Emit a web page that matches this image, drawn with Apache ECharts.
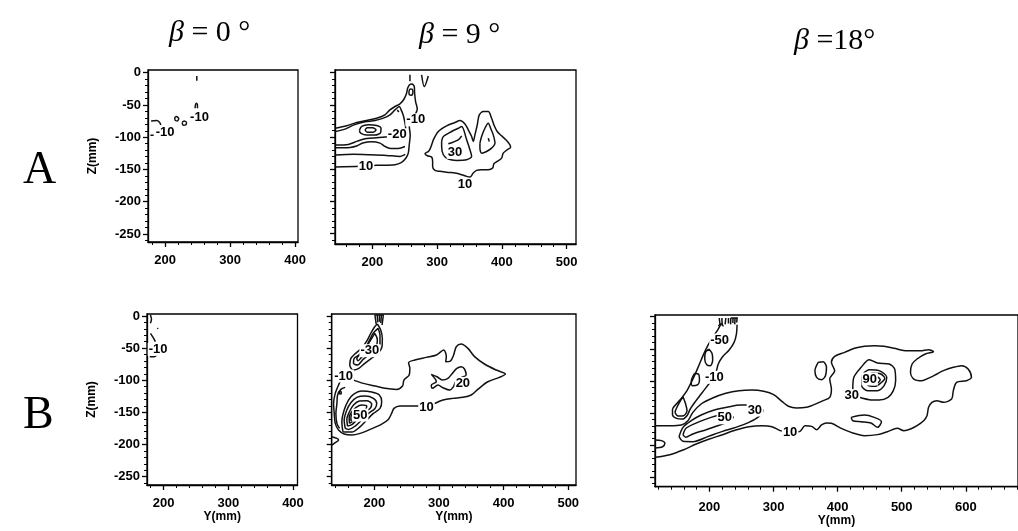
<!DOCTYPE html>
<html>
<head>
<meta charset="utf-8">
<script src="https://cdn.jsdelivr.net/npm/echarts@6/dist/echarts.min.js"></script>
<style>
html,body{margin:0;padding:0;background:#fff}
#chart{width:1018px;height:531px}
</style>
</head>
<body>
<div id="chart"></div>
<script>
// ---- tick values (mm) ----
const zMajorTicks = [0, -50, -100, -150, -200, -250];
const yMajorA0 = [200, 300, 400];
const yMajorA9 = [200, 300, 400, 500];
const yMajorB18 = [200, 300, 400, 500, 600];

// ---- contour lines, points are [Y (mm), Z (mm)] ----
// Row A, beta = 0
const a0Tick = [[248.9,-5.1],[248.9,-12.3]];
const a0Cap = [[246.3,-55.1],[246.8,-49.9],[248.3,-47.4],[249.9,-49.9],[249.9,-55.1]];
const a0LoopA = [[215.0,-69.1],[217.6,-68.0],[221.1,-71.1],[219.1,-74.7],[215.5,-73.7],[215.0,-69.1]];
const a0LoopB = [[226.3,-77.3],[229.4,-74.7],[233.0,-77.3],[231.9,-80.9],[227.8,-81.4],[226.3,-77.3]];
const a0Arc = [[178.6,-74.7],[187.3,-74.2],[191.4,-76.8],[193.5,-80.9]];
const a0Dash = [[177.5,-97.0],[182.5,-97.0]];
const a0Labels = [[253.0,-69.1,'-10'],[200.1,-92.8,'-10']];

// Row A, beta = 9
const a9Outer = [[143.0,-86.1],[160.4,-82.5],[175.8,-77.3],[191.3,-74.2],[206.7,-70.6],[219.5,-65.4],[227.2,-57.7],[235.0,-52.5],[242.7,-48.4],[248.8,-41.2],[252.9,-31.9],[254.5,-24.2],[257.1,-19.0],[261.2,-17.5],[264.8,-21.6],[265.3,-31.9],[266.8,-44.8],[269.4,-56.7],[265.8,-65.4],[260.7,-74.2],[257.1,-83.5],[258.5,-96.4],[257.0,-111.9],[255.5,-124.8],[251.9,-132.5],[245.2,-139.2],[235.0,-142.8],[206.7,-143.9],[181.0,-145.4],[143.0,-146.5]];
const a9Ring20 = [[143.0,-112.4],[163.0,-111.4],[176.9,-106.2],[191.3,-102.1],[206.7,-101.0],[219.5,-100.0],[229.8,-97.9],[242.7,-96.9],[249.5,-94.0],[251.5,-86.1],[250.0,-75.8],[247.5,-65.4],[244.5,-57.7],[241.6,-52.5],[235.0,-57.7],[227.2,-65.4],[217.0,-70.6],[204.1,-74.2],[188.7,-76.3],[170.7,-81.4],[157.9,-87.6],[143.0,-91.2]];
const a9Lower1 = [[143.0,-116.5],[165.6,-116.0],[176.9,-113.4],[185.1,-109.3],[199.0,-107.2],[211.8,-109.3],[219.5,-114.5],[228.3,-117.6],[240.1,-117.6],[250.4,-114.5]];
const a9Lower2 = [[143.0,-127.9],[170.7,-126.8],[196.4,-127.4],[222.1,-128.4],[242.7,-130.0],[250.9,-126.8]];
const a9PeakOuter = [[180.0,-89.7],[183.6,-83.5],[193.8,-80.9],[206.7,-82.0],[213.4,-86.1],[212.9,-92.8],[204.1,-96.9],[191.3,-96.9],[182.0,-93.8],[180.0,-89.7]];
const a9PeakInner = [[188.7,-88.7],[192.3,-85.6],[200.5,-85.6],[205.7,-88.7],[201.5,-92.3],[192.3,-92.3],[188.7,-88.7]];
const a9TipLoop = [[256.5,-29.3],[258.6,-25.2],[261.7,-25.7],[262.7,-30.4],[260.7,-35.0],[257.1,-34.0],[256.5,-29.3]];
const a9TopTick = [[258.1,-3.0],[258.1,-13.3]];
const a9TopV = [[276.1,-3.5],[280.2,-21.6],[286.4,-5.1]];
const a9Fleck = [[238.5,-58.0],[241.0,-61.0]];
const a9RightOuter = [[294.2,-104.2],[301.9,-91.3],[314.7,-82.5],[327.6,-77.4],[335.3,-74.3],[343.0,-79.5],[348.1,-88.7],[353.3,-99.1],[355.8,-106.8],[358.4,-96.5],[362.0,-81.0],[365.1,-65.5],[371.3,-60.4],[379.0,-60.4],[384.1,-70.7],[387.7,-81.0],[392.8,-91.3],[399.5,-98.0],[406.2,-104.2],[412.4,-112.0],[413.4,-115.6],[408.3,-119.7],[402.1,-124.9],[399.5,-132.6],[392.8,-137.8],[387.7,-141.4],[385.7,-148.1],[379.0,-150.7],[368.7,-150.7],[361.0,-151.7],[355.8,-155.8],[350.7,-162.0],[345.6,-161.0],[337.9,-158.4],[327.6,-155.8],[317.3,-154.8],[304.4,-153.2],[296.7,-151.7],[293.1,-145.5],[293.1,-137.8],[291.6,-131.1],[284.9,-129.0],[281.3,-125.9],[286.5,-122.3],[289.0,-118.7],[291.6,-112.0],[294.2,-104.2]];
const a9Right30 = [[307.0,-106.8],[309.6,-99.1],[322.4,-91.3],[332.7,-86.2],[337.9,-83.6],[345.6,-104.2],[350.7,-119.7],[353.3,-130.0],[345.6,-135.2],[330.1,-136.2],[317.3,-134.1],[309.6,-127.4],[307.0,-114.5],[307.0,-106.8]];
const a9RightInnerLine = [[317.3,-110.4],[332.7,-104.2],[337.9,-98.0]];
const a9RightLobe = [[366.1,-109.4],[368.7,-99.1],[373.8,-86.2],[379.0,-78.4],[382.6,-86.2],[386.7,-96.5],[389.3,-109.4],[384.1,-117.1],[376.4,-122.3],[368.7,-124.9],[366.1,-117.1],[366.1,-109.4]];
const a9RightFleck = [[379.0,-101.6],[380.5,-106.8]];
const a9Labels = [[267.0,-73.2,'-10'],[238.5,-96.4,'-20'],[190.3,-146.0,'10'],[327.6,-123.8,'30'],[343.0,-173.9,'10']];

// Row B, beta = 0
const b0Tick = [[179.6,1.5],[181.2,-5.2],[179.6,-11.4]];
const b0Dot = [[190.4,-18.6],[191.4,-20.0]];
const b0Slash = [[179.6,-27.0],[183.7,-33.2],[187.3,-40.0]];
const b0Hook = [[187.3,-55.5],[189.9,-59.7],[185.8,-63.3],[178.6,-63.3]];
const b0Labels = [[191.4,-51.9,'-10']];

// Row B, beta = 9
const b9Outer = [[165.2,-98.6],[183.2,-104.9],[201.1,-109.0],[216.5,-112.6],[234.5,-114.2],[243.7,-109.0],[245.8,-99.7],[254.0,-91.9],[255.0,-81.5],[253.0,-72.7],[262.7,-68.5],[280.7,-64.4],[296.1,-60.7],[307.3,-53.0],[311.4,-63.3],[310.4,-71.1],[317.6,-70.1],[322.7,-60.7],[326.8,-47.8],[334.5,-43.6],[344.8,-50.4],[355.1,-63.3],[370.4,-74.7],[388.4,-84.1],[402.8,-90.3],[393.5,-95.5],[375.6,-102.3],[360.2,-114.2],[349.9,-123.0],[337.1,-126.6],[321.7,-128.2],[306.3,-130.8],[293.5,-136.0],[283.2,-141.2],[270.4,-140.1],[255.0,-140.1],[239.6,-140.1],[230.4,-143.8],[226.8,-151.6],[221.7,-160.9],[211.4,-168.2],[193.5,-176.5],[178.1,-182.7],[165.2,-185.3],[153.4,-183.7],[144.7,-177.5],[139.6,-167.1],[138.0,-151.6],[137.0,-136.0],[139.6,-120.4],[144.7,-107.4],[149.9,-97.1],[157.5,-95.5],[165.2,-98.6]];
const b9Fish = [[288.2,-90.8],[297.0,-94.5],[305.2,-99.7],[313.9,-97.1],[320.6,-89.3],[327.7,-81.5],[334.4,-78.9],[339.5,-82.5],[342.1,-91.9],[334.4,-96.0],[325.7,-102.3],[322.6,-110.0],[316.5,-115.2],[306.2,-111.6],[298.5,-107.5],[289.8,-112.6],[288.2,-107.5],[295.9,-102.3],[288.2,-90.8]];
const b9Peak1 = [[151.4,-180.1],[149.8,-164.5],[153.4,-146.4],[160.1,-130.8],[167.8,-122.0],[180.6,-116.8],[196.0,-118.3],[207.8,-123.0],[211.4,-133.4],[208.8,-143.8],[198.6,-151.6],[188.3,-161.9],[177.0,-173.4],[165.2,-180.6],[151.4,-180.1]];
const b9Peak2 = [[155.0,-174.9],[153.4,-161.9],[157.5,-146.4],[163.7,-135.0],[172.9,-126.6],[185.8,-124.6],[198.6,-128.2],[203.7,-136.0],[201.1,-143.8],[190.9,-151.6],[180.6,-161.9],[170.4,-171.3],[160.1,-176.5],[155.0,-174.9]];
const b9Peak3 = [[158.6,-171.3],[157.5,-160.9],[161.6,-149.0],[167.8,-138.6],[177.0,-132.4],[188.3,-131.8],[196.0,-137.0],[193.5,-143.8],[183.2,-150.5],[174.0,-160.4],[165.2,-169.2],[158.6,-171.3]];
const b9Peak4 = [[161.6,-167.1],[161.1,-157.8],[165.2,-149.0],[171.9,-142.2],[180.6,-138.6],[188.3,-140.1],[185.8,-146.4],[177.0,-152.6],[169.3,-161.9],[161.6,-167.1]];
const b9Peak5 = [[163.7,-163.0],[164.2,-155.7],[168.8,-149.5],[175.5,-146.4],[179.1,-147.9],[174.0,-154.2],[167.8,-160.9],[163.7,-163.0]];
const b9LeftInner = [[155.0,-111.1],[148.3,-114.2],[143.2,-123.0],[142.2,-136.0],[140.6,-151.6],[142.2,-167.1],[146.3,-174.9]];
const b9Speck = [[146.3,-118.0],[148.5,-117.5],[149.0,-120.5],[147.0,-121.5],[145.8,-120.0],[146.3,-118.0]];
const b9Hook = [[134.5,-187.9],[142.2,-190.5],[144.7,-193.1],[139.6,-197.2],[134.5,-200.9]];
const b9UpperA = [[204.7,-12.5],[209.9,-21.8],[212.4,-34.8],[211.9,-47.8],[205.8,-58.2],[195.5,-66.0],[185.2,-73.7],[176.0,-81.5],[167.3,-84.1],[162.1,-76.3],[163.7,-66.0],[169.8,-59.2],[180.1,-50.4],[187.8,-40.0],[194.5,-27.0],[200.6,-16.7],[204.7,-12.5]];
const b9UpperB = [[205.8,-19.2],[208.8,-29.6],[208.8,-42.6],[203.2,-51.9],[192.9,-59.2],[182.7,-67.5],[173.9,-76.3],[167.8,-73.7],[168.8,-66.0],[176.0,-60.8],[185.2,-51.9],[191.4,-40.0],[198.1,-27.0],[205.8,-19.2]];
const b9UpperC = [[200.6,-27.0],[204.7,-36.4],[203.7,-45.2],[198.1,-50.4],[189.3,-57.1],[180.1,-64.4],[175.0,-69.6],[172.9,-66.0],[179.1,-59.2],[186.8,-50.4],[192.9,-40.0],[200.6,-27.0]];
const b9Hatch = [
  [[201.0,1.5],[203.0,-13.0]],
  [[204.5,1.5],[205.5,-10.0]],
  [[208.0,1.5],[208.0,-9.0]],
  [[211.0,1.5],[210.0,-11.0]],
  [[214.0,1.5],[212.0,-14.0]],
  [[200.5,1.5],[214.5,1.5]]
];
const b9Labels = [[152.4,-93.4,'-10'],[193.0,-54.0,'-30'],[178.1,-154.2,'50'],[337.0,-104.9,'20'],[280.7,-142.2,'10']];

// Row B, beta = 18
const b18Outer = [[115.1,-169.8],[138.2,-169.8],[156.2,-168.7],[166.5,-162.0],[174.2,-149.0],[187.1,-136.0],[205.1,-126.7],[225.6,-119.4],[246.2,-115.3],[266.7,-114.2],[284.7,-116.3],[300.2,-121.5],[313.0,-131.9],[323.3,-139.6],[336.1,-142.2],[351.6,-141.2],[359.5,-138.6],[377.5,-130.8],[387.7,-125.6],[390.3,-112.6],[387.7,-97.1],[395.4,-84.1],[390.3,-71.1],[395.4,-61.8],[410.9,-55.6],[426.3,-49.3],[441.7,-46.2],[457.1,-45.2],[472.5,-46.2],[488.0,-49.3],[508.5,-53.0],[529.1,-53.0],[541.9,-51.4],[549.6,-54.5],[536.8,-58.1],[523.9,-65.9],[516.2,-73.7],[513.7,-86.7],[518.8,-97.1],[531.7,-99.7],[544.5,-94.5],[554.8,-89.3],[565.1,-84.1],[580.5,-78.9],[593.3,-76.3],[603.6,-81.5],[608.8,-94.5],[601.0,-99.7],[585.6,-102.3],[580.5,-115.2],[577.9,-128.2],[565.1,-133.4],[554.8,-130.8],[547.1,-133.4],[541.9,-141.2],[539.4,-154.2],[534.2,-162.0],[523.9,-169.7],[513.7,-174.9],[503.4,-177.5],[493.1,-173.9],[477.7,-179.1],[462.3,-183.7],[441.7,-185.3],[423.7,-181.1],[405.7,-173.9],[390.3,-166.1],[382.6,-165.6],[374.9,-168.7],[367.2,-176.0],[359.5,-170.8],[349.2,-169.7],[341.3,-178.6],[325.9,-180.1],[310.4,-177.5],[297.6,-171.3],[282.2,-169.8],[261.6,-171.3],[241.0,-176.5],[220.5,-183.8],[199.9,-190.5],[179.4,-198.3],[158.8,-207.6],[138.2,-214.9],[115.1,-219.1]];
const b18Islet = [[369.7,-71.1],[377.5,-70.1],[382.6,-78.9],[381.0,-91.9],[374.9,-98.1],[367.2,-94.5],[364.6,-84.1],[369.7,-71.1]];
const b18Hole = [[421.1,-156.8],[441.7,-153.1],[457.1,-156.8],[468.4,-163.5],[462.3,-172.3],[452.0,-165.6],[436.6,-163.5],[423.7,-162.0],[421.1,-156.8]];
const b18Peak30 = [[434.0,-125.6],[423.7,-112.6],[425.3,-94.5],[436.6,-78.9],[449.4,-67.0],[462.3,-72.2],[480.3,-73.7],[489.0,-81.5],[490.5,-99.7],[486.9,-115.2],[478.7,-125.6],[464.8,-129.8],[449.4,-129.3],[434.0,-125.6]];
const b18Peak2 = [[439.1,-89.3],[449.4,-82.5],[464.8,-84.1],[476.7,-94.5],[472.5,-107.5],[462.3,-115.2],[446.8,-115.2],[437.6,-107.5],[439.1,-89.3]];
const b18Peak3 = [[444.3,-92.9],[454.5,-87.7],[467.4,-89.3],[473.6,-96.0],[467.4,-103.3],[458.1,-108.5],[446.8,-106.4],[444.3,-92.9]];
const b18Peak4 = [[449.4,-96.0],[459.7,-92.9],[466.4,-98.1],[461.2,-103.8],[452.0,-103.3],[449.4,-96.0]];
const b18Band30 = [[152.6,-186.9],[158.8,-172.4],[171.7,-162.0],[187.1,-153.2],[207.6,-145.4],[230.8,-140.2],[248.8,-137.6],[264.2,-137.6],[279.6,-140.2],[283.2,-146.4],[277.0,-155.7],[261.6,-164.6],[241.0,-172.4],[220.5,-178.6],[197.4,-186.8],[174.2,-194.7],[158.8,-194.1],[152.6,-186.9]];
const b18Band50 = [[158.8,-183.8],[163.9,-173.4],[184.5,-163.5],[202.5,-156.8],[217.9,-153.1],[230.8,-152.6],[236.9,-156.8],[230.8,-163.5],[212.8,-169.8],[194.8,-176.0],[174.2,-182.7],[162.9,-187.9],[158.8,-183.8]];
const b18EdgeHook = [[115.1,-192.1],[125.4,-193.1],[130.5,-197.3],[126.9,-202.5],[115.1,-204.5]];
const b18Tongue = [[217.9,-11.5],[212.8,-20.8],[205.1,-32.2],[197.4,-45.2],[190.7,-59.2],[184.5,-73.7],[178.3,-88.3],[171.7,-102.3],[165.0,-115.3],[156.7,-126.7],[148.5,-136.0],[142.4,-144.3],[142.4,-152.6],[148.5,-158.3],[157.8,-159.4],[165.0,-154.2],[170.1,-143.8],[178.3,-131.9],[187.1,-120.5],[195.8,-109.0],[204.0,-98.7],[210.2,-86.7],[213.8,-73.7],[220.5,-62.3],[230.8,-51.9],[238.5,-40.0],[242.1,-27.0],[243.1,-12.5]];
const b18TongueTip = [[158.8,-124.6],[162.9,-136.0],[165.0,-146.4],[159.8,-154.2],[151.6,-154.7],[146.5,-149.0],[150.6,-138.6],[158.8,-124.6]];
const b18TongueOval = [[198.9,-50.4],[204.0,-57.1],[205.1,-67.5],[201.5,-76.3],[195.8,-74.8],[192.7,-66.0],[193.8,-55.6],[198.9,-50.4]];
const b18TongueNotch = [[176.8,-88.3],[183.5,-90.3],[184.5,-98.6],[181.9,-105.9],[173.2,-107.5],[171.7,-100.7],[176.8,-88.3]];
const b18Hatch = [
  [[215.3,-2.1],[216.5,-12.5]],
  [[219.4,-2.1],[220.0,-13.5]],
  [[225.6,-2.1],[224.5,-12.0]],
  [[229.7,-2.1],[229.7,-10.5]],
  [[233.3,-2.1],[233.0,-12.0]],
  [[236.9,-2.1],[236.5,-10.0]],
  [[240.0,-2.1],[239.5,-12.0]],
  [[243.1,-2.1],[242.5,-9.0]],
  [[233.3,-2.1],[244.5,-2.1]],
  [[214.0,-14.5],[218.0,-11.0],[222.0,-15.0]]
];
const b18Labels = [[216.0,-36.4,'-50'],[207.6,-94.5,'-10'],[224.0,-157.5,'50'],[270.9,-145.4,'30'],[325.9,-180.1,'10'],[422.2,-123.0,'30'],[450.0,-97.0,'90']];

// ---- panel layout ----
const panels = [
  { grid:{left:148, top:70, width:150, height:172}, x:[173.8,404.6], z:[-262.4,4.2],
    xMajor:yMajorA0, zLabels:true, xName:'', xMargin:12,
    lines:[a0Tick,a0Cap,a0LoopA,a0LoopB,a0Arc,a0Dash], labels:a0Labels },
  { grid:{left:335, top:70, width:241, height:174}, x:[142.4,514.4], z:[-266,4.2],
    xMajor:yMajorA9, zLabels:false, xName:'', xMargin:12,
    lines:[a9Outer,a9Ring20,a9Lower1,a9Lower2,a9PeakOuter,a9PeakInner,a9TipLoop,a9TopTick,a9TopV,a9Fleck,
           a9RightOuter,a9Right30,a9RightInnerLine,a9RightLobe,a9RightFleck], labels:a9Labels },
  { grid:{left:147, top:314, width:150.5, height:171}, x:[174.3,407], z:[-263,3.1],
    xMajor:yMajorA0, zLabels:true, xName:'Y(mm)', xMargin:12, nameGap:22,
    lines:[b0Tick,b0Dot,b0Slash,b0Hook], labels:b0Labels },
  { grid:{left:331.7, top:314, width:244.3, height:171}, x:[134.1,512], z:[-263,3.1],
    xMajor:yMajorA9, zLabels:false, xName:'Y(mm)', xMargin:12, nameGap:22,
    lines:[b9Outer,b9Fish,b9Peak1,b9Peak2,b9Peak3,b9Peak4,b9Peak5,b9LeftInner,b9Speck,b9Hook,
           b9UpperA,b9UpperB,b9UpperC].concat(b9Hatch), labels:b9Labels },
  { grid:{left:655, top:315, width:367, height:171.7}, x:[115.1,681.4], z:[-264.8,2.6],
    xMajor:yMajorB18, zLabels:false, xName:'Y(mm)', xMargin:14, nameGap:24,
    lines:[b18Outer,b18Islet,b18Hole,b18Peak30,b18Peak2,b18Peak3,b18Peak4,b18Band30,b18Band50,b18EdgeHook,
           b18Tongue,b18TongueTip,b18TongueOval,b18TongueNotch].concat(b18Hatch), labels:b18Labels }
];

function steps(from, to, step) {
  const out = [];
  const start = Math.ceil(from / step) * step;
  for (let v = start; v <= to + 1e-9; v += step) out.push(v);
  return out;
}

const ink = '#000';
const sans = 'Liberation Sans, Arial, sans-serif';
const tickFont = { color: ink, fontWeight: 'bold', fontSize: 13, fontFamily: sans };

const grids = [], xAxes = [], yAxes = [], series = [];
panels.forEach((p, i) => {
  grids.push(Object.assign({ show: true, borderColor: ink, borderWidth: 1.3, backgroundColor: 'transparent', containLabel: false }, p.grid));
  const xMinor = steps(p.x[0], p.x[1], 20).filter(v => v % 100 !== 0);
  const zMinor = steps(p.z[0], p.z[1], 10).filter(v => v % 50 !== 0);
  // major x axis with labels
  xAxes.push({
    gridIndex: i, type: 'value', min: p.x[0], max: p.x[1], position: 'bottom',
    axisLine: { show: true, onZero: false, lineStyle: { color: ink, width: 1.3 } },
    axisTick: { show: true, customValues: p.xMajor, length: 5, lineStyle: { color: ink, width: 1.3 } },
    axisLabel: Object.assign({ show: true, customValues: p.xMajor, margin: p.xMargin }, tickFont),
    splitLine: { show: false },
    name: p.xName, nameLocation: 'middle', nameGap: p.nameGap || 20,
    nameTextStyle: { color: ink, fontWeight: 'bold', fontSize: 12, fontFamily: sans }
  });
  // minor x ticks
  xAxes.push({
    gridIndex: i, type: 'value', min: p.x[0], max: p.x[1], position: 'bottom',
    axisLine: { show: false, onZero: false },
    axisTick: { show: true, customValues: xMinor, length: 3, lineStyle: { color: ink, width: 1 } },
    axisLabel: { show: false }, splitLine: { show: false }
  });
  yAxes.push({
    gridIndex: i, type: 'value', min: p.z[0], max: p.z[1], position: 'left',
    axisLine: { show: true, onZero: false, lineStyle: { color: ink, width: 1.3 } },
    axisTick: { show: true, customValues: zMajorTicks, length: 5, lineStyle: { color: ink, width: 1.3 } },
    axisLabel: Object.assign({ show: p.zLabels, customValues: zMajorTicks, margin: 7 }, tickFont),
    splitLine: { show: false },
    name: p.zLabels ? 'Z(mm)' : '', nameLocation: 'middle', nameGap: 49, nameRotate: 90,
    nameTextStyle: { color: ink, fontWeight: 'bold', fontSize: 12, fontFamily: sans }
  });
  yAxes.push({
    gridIndex: i, type: 'value', min: p.z[0], max: p.z[1], position: 'left',
    axisLine: { show: false, onZero: false },
    axisTick: { show: true, customValues: zMinor, length: 3, lineStyle: { color: ink, width: 1 } },
    axisLabel: { show: false }, splitLine: { show: false }
  });
  p.lines.forEach(pts => {
    series.push({
      type: 'line', xAxisIndex: 2 * i, yAxisIndex: 2 * i, data: pts,
      symbol: 'none', smooth: 0.3, silent: true, clip: true,
      lineStyle: { color: '#111', width: 1.5 }, z: 3
    });
  });
  series.push({
    type: 'scatter', xAxisIndex: 2 * i, yAxisIndex: 2 * i, symbolSize: 1, silent: true, z: 6,
    itemStyle: { color: 'rgba(255,255,255,0)' },
    data: p.labels.map(l => ({ value: [l[0], l[1]], name: l[2] })),
    label: {
      show: true, position: 'inside', formatter: q => q.name,
      color: '#000', opacity: 1, textBorderWidth: 0, textBorderColor: 'transparent',
      fontWeight: 'bold', fontSize: 13, fontFamily: sans,
      backgroundColor: '#fff', padding: [0, 1]
    }
  });
});

const serif = 'Liberation Serif, Times New Roman, serif';
const headRich = {
  g: { fontStyle: 'italic', fontWeight: 'normal', fontFamily: serif, fontSize: 30, color: ink },
  n: { fontStyle: 'normal', fontWeight: 'normal', fontFamily: serif, fontSize: 30, color: ink }
};
const headStyle = { fontWeight: 'normal', rich: headRich };
const titles = [
  { text: '{g|β}{n| = 0 °}', left: 164, top: 13, textStyle: headStyle },
  { text: '{g|β}{n| = 9 °}', left: 414, top: 15, textStyle: headStyle },
  { text: '{g|β}{n| =18°}', left: 789, top: 21, textStyle: headStyle },
  { text: 'A', left: 18, top: 143, textStyle: { fontFamily: serif, fontSize: 46, fontWeight: 'normal', color: ink } },
  { text: 'B', left: 18, top: 388, textStyle: { fontFamily: serif, fontSize: 46, fontWeight: 'normal', color: ink } }
];

const chart = echarts.init(document.getElementById('chart'), null, { renderer: 'canvas' });
chart.setOption({
  animation: false,
  backgroundColor: '#fff',
  title: titles,
  grid: grids,
  xAxis: xAxes,
  yAxis: yAxes,
  series: series
});
</script>
</body>
</html>
